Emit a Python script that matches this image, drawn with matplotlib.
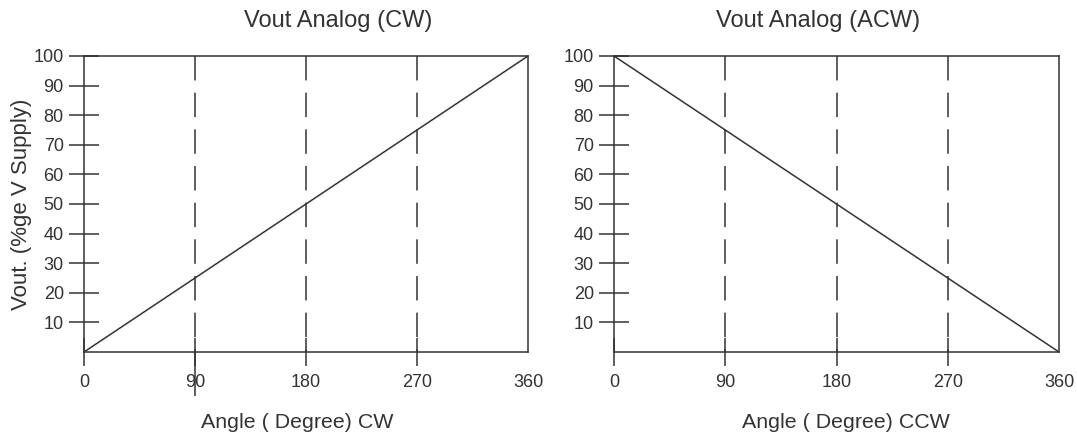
import numpy as np
import matplotlib.pyplot as plt

plt.rcParams['font.family'] = ['Liberation Sans', 'DejaVu Sans']

angle = [0, 360]
vout_cw = [0, 100]
vout_acw = [100, 0]
x_ticks = [0, 90, 180, 270, 360]
y_ticks = [10, 20, 30, 40, 50, 60, 70, 80, 90, 100]
marks = [90, 180, 270]

ink = '#333333'
lw = 1.1

fig = plt.figure(figsize=(10.77, 4.38), dpi=100)
ax1 = fig.add_axes([84/1077, 86/438, 444/1077, 296/438])
ax2 = fig.add_axes([614/1077, 86/438, 445/1077, 296/438])

def style_axis(ax, title, title_x, xlabel, xlabel_x):
    ax.set_xlim(0, 360)
    ax.set_ylim(0, 100)
    ax.set_xticks(x_ticks)
    ax.set_yticks(y_ticks)
    ax.tick_params(direction='inout', length=21, width=lw, color=ink,
                   labelcolor=ink, labelsize=13, pad=4)
    ax.tick_params(axis='x', length=20, pad=6)
    ax.xaxis.get_major_ticks()[-1].tick1line.set_visible(False)
    for s in ax.spines.values():
        s.set_color(ink)
        s.set_linewidth(lw)
    # dashes start from the top edge
    ax.vlines(marks, 100, 0, colors=ink, linewidth=lw,
              linestyles=[(0, (16, 8))])
    ax.set_title(title, fontsize=17, color=ink, x=title_x, pad=21)
    ax.set_xlabel(xlabel, fontsize=15.4, color=ink)
    ax.xaxis.set_label_coords(xlabel_x, -0.206)

ax1.plot(angle, vout_cw, color=ink, linewidth=lw)
style_axis(ax1, 'Vout Analog (CW)', 0.572, 'Angle ( Degree) CW', 0.48)
ax1.set_ylabel('Vout. (%ge V Supply)', fontsize=16, color=ink, labelpad=1)
# the 90 mark runs on through its label on the left plot
ax1.vlines(90, -15, 0, colors=ink, linewidth=lw, clip_on=False)

ax2.plot(angle, vout_acw, color=ink, linewidth=lw)
style_axis(ax2, 'Vout Analog (ACW)', 0.458, 'Angle ( Degree) CCW', 0.52)

fig.savefig('out.png', dpi=100)
